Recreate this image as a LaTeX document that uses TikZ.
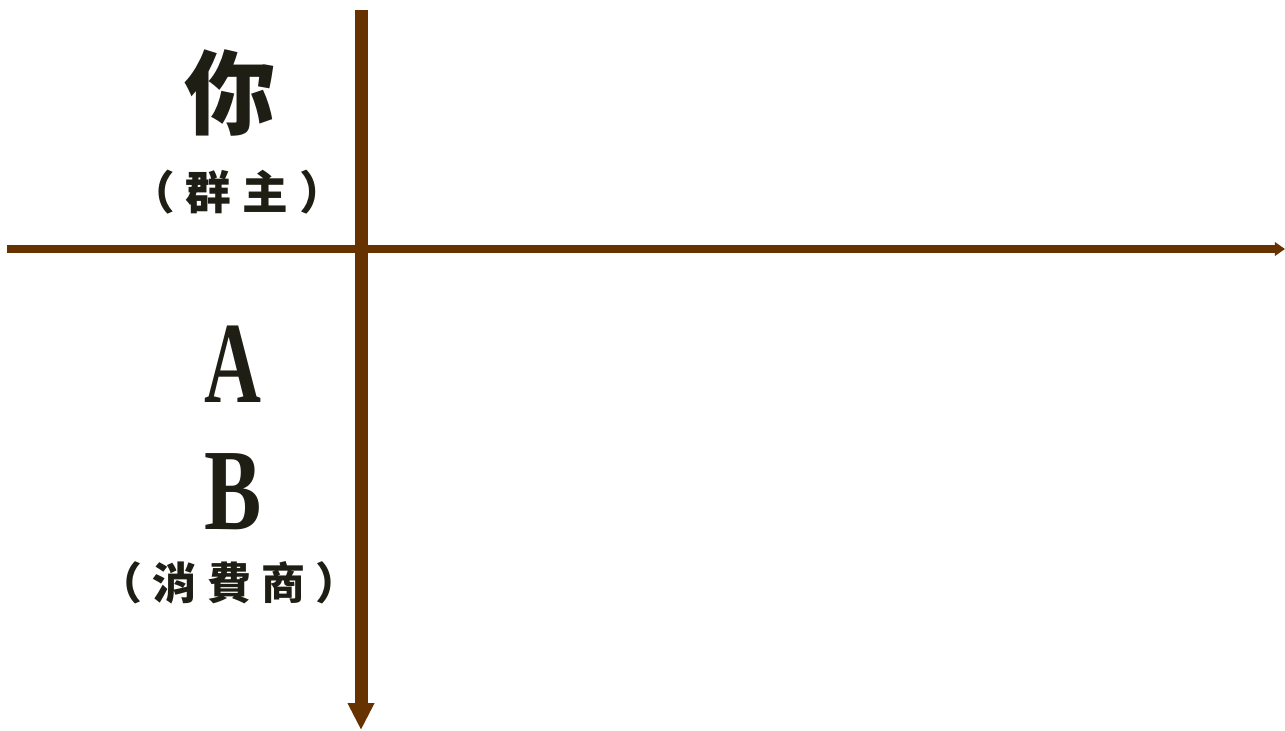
\documentclass[tikz,border=0pt]{standalone}
\usepackage{fontspec}
\usepackage{tikz}
\usetikzlibrary{arrows.meta}
\newfontfamily\cjk{Noto Sans CJK TC}
\newfontfamily\cjkwide[LetterSpace=24]{Noto Sans CJK TC}
\newfontfamily\latinserif{Liberation Serif}
\definecolor{axisbrown}{HTML}{663300}
\definecolor{inkdark}{HTML}{1E1E14}
\tikzset{
  axis/.style={axisbrown, line cap=butt},
  label/.style={inkdark, inner sep=0pt, font=\cjk\bfseries},
}
\begin{document}
\begin{tikzpicture}[line width=0.8pt]
  \useasboundingbox (0,0) rectangle (25.7,-14.6);
  \coordinate (O) at (7.22,-4.98);  % crossing point
  \coordinate (top) at (7.22,-0.2);
  \coordinate (bottom) at (7.22,-14.6);
  \coordinate (left) at (0.14,-4.98);
  \coordinate (right) at (25.7,-4.98);
  % axes
  \draw[axis, line width=7.4pt, -{Triangle[width=14.2pt,length=15.3pt]}] (top) -- (bottom);
  \draw[axis, line width=4.5pt, -{Triangle[width=7.6pt,length=5.8pt]}] (left) -- (right);
  % upper side
  \node[label, font=\cjk\bfseries\fontsize{52}{52}\selectfont] (you) at (4.6,-1.86) {你};
  \node[label, font=\cjkwide\bfseries\fontsize{26}{26}\selectfont] (youRole) at (4.74,-3.84) {（群主）};
  % lower side
  \node[label, font=\latinserif\bfseries\fontsize{66}{66}\selectfont, xscale=0.68] (nodeA) at (4.66,-7.29) {A};
  \node[label, font=\latinserif\bfseries\fontsize{66}{66}\selectfont, xscale=0.74] (nodeB) at (4.66,-9.83) {B};
  \node[label, font=\cjkwide\bfseries\fontsize{25}{25}\selectfont] (abRole) at (4.58,-11.66) {（消費商）};
\end{tikzpicture}
\end{document}
